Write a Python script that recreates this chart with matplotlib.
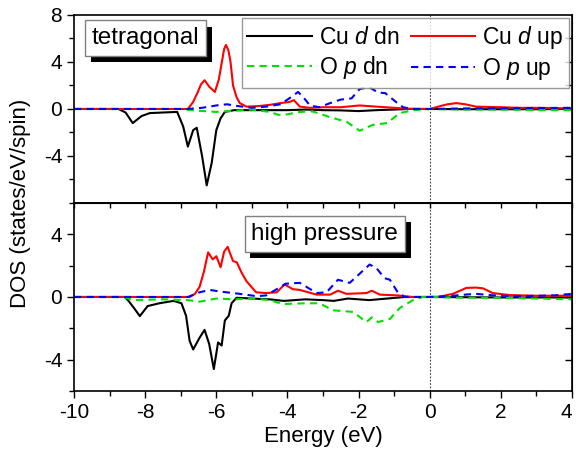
import numpy as np
import matplotlib
matplotlib.use('Agg')
import matplotlib.pyplot as plt
from matplotlib.ticker import MultipleLocator, FixedLocator
import matplotlib.patheffects as pe

plt.rcParams['font.family'] = ['Liberation Sans', 'DejaVu Sans']
plt.rcParams['mathtext.fontset'] = 'custom'
plt.rcParams['mathtext.rm'] = 'Liberation Sans'
plt.rcParams['mathtext.it'] = 'Liberation Sans:italic'
plt.rcParams['axes.unicode_minus'] = False

# ---- tetragonal panel ----
tet_cu_dn_e = [-10, -8.75, -8.55, -8.35, -8.1, -7.87, -7.5, -7.1, -6.93, -6.8, -6.65, -6.55,
               -6.4, -6.27, -6.13, -6.0, -5.88, -5.76, -5.5, -5.0, -4.5, -4.0, -3.5, -3.0,
               -2.5, -2.0, -1.5, -1.0, -0.6, 0, 1, 2, 3, 4]
tet_cu_dn = [0, 0, -0.3, -1.2, -0.6, -0.35, -0.3, -0.25, -1.5, -3.2, -1.8, -1.6,
             -4.0, -6.5, -4.6, -1.8, -0.8, -0.25, -0.1, -0.1, -0.1, -0.1, -0.05, -0.1,
             -0.12, -0.18, -0.1, -0.05, 0, 0, -0.02, -0.02, -0.02, 0]

tet_cu_up_e = [-10, -6.8, -6.65, -6.52, -6.43, -6.33, -6.2, -6.04, -5.93, -5.85, -5.78, -5.73,
               -5.66, -5.6, -5.53, -5.43, -5.34, -5.15, -4.8, -4.5, -4.2, -3.94, -3.82, -3.65,
               -3.37, -3.0, -2.5, -1.97, -1.5, -1.0, -0.6, 0, 0.3, 0.5, 0.75, 1.0, 1.3, 2,
               2.5, 3, 3.5, 4]
tet_cu_up = [0, 0, 0.6, 1.45, 2.1, 2.45, 1.9, 1.45, 2.5, 3.9, 5.1, 5.45,
             5.0, 4.0, 2.0, 1.0, 0.5, 0.2, 0.25, 0.35, 0.5, 0.6, 0.75, 0.2,
             0.1, 0.15, 0.15, 0.3, 0.2, 0.1, 0.02, 0, 0.25, 0.4, 0.5, 0.4, 0.2, 0.15,
             0.1, 0.1, 0.08, 0.05]

tet_o_dn_e = [-10, -7.0, -6.5, -6.0, -5.5, -5.0, -4.5, -4.25, -4.0, -3.65, -3.3, -2.8,
              -2.33, -1.97, -1.6, -1.2, -0.84, -0.47, 0, 1, 2, 3, 4]
tet_o_dn = [0, 0, -0.15, -0.25, -0.15, -0.05, -0.25, -0.5, -0.45, -0.25, -0.2, -0.7,
            -1.1, -1.85, -1.35, -1.2, -0.35, -0.1, 0, -0.05, -0.05, -0.1, -0.1]

tet_o_up_e = [-10, -6.8, -6.4, -6.0, -5.7, -5.4, -5.0, -4.6, -4.2, -3.95, -3.7, -3.5,
              -3.37, -3.1, -2.8, -2.5, -2.2, -1.97, -1.7, -1.45, -1.25, -0.95, -0.75, -0.5,
              0, 1, 2, 3, 4]
tet_o_up = [0, 0, 0.1, 0.3, 0.4, 0.25, 0.1, 0.2, 0.4, 0.9, 1.45, 0.8,
            0.3, 0.15, 0.5, 0.8, 0.9, 1.7, 1.85, 1.4, 1.35, 0.6, 0.15, 0,
            0, 0.05, 0.05, 0.08, 0.1]

# ---- high pressure panel ----
hp_cu_dn_e = [-10, -8.57, -8.45, -8.3, -8.15, -7.93, -7.6, -7.2, -6.98, -6.85, -6.75, -6.65,
              -6.47, -6.33, -6.2, -6.07, -5.95, -5.85, -5.76, -5.65, -5.57, -5.43, -5.0,
              -4.5, -4.1, -3.5, -3.0, -2.7, -2.3, -1.7, -1.2, -0.7, 0, 2, 4]
hp_cu_dn = [0, 0, -0.3, -0.75, -1.22, -0.58, -0.4, -0.25, -0.4, -1.2, -2.8, -3.35,
            -2.6, -2.1, -3.0, -4.6, -2.9, -3.1, -1.5, -1.2, -0.4, -0.05, -0.1,
            -0.15, -0.25, -0.15, -0.2, -0.25, -0.1, -0.2, -0.1, 0, 0, -0.03, -0.03]

hp_cu_up_e = [-10, -6.75, -6.6, -6.47, -6.35, -6.23, -6.1, -6.0, -5.88, -5.78, -5.68, -5.6,
              -5.53, -5.42, -5.3, -5.15, -4.88, -4.6, -4.3, -4.08, -3.85, -3.65, -3.18,
              -2.8, -2.58, -2.34, -1.78, -1.63, -1.4, -0.9, -0.5, 0, 0.28, 0.65, 1.03,
              1.3, 1.5, 1.77, 2.25, 3, 4]
hp_cu_up = [0, 0, 0.2, 0.65, 1.6, 2.85, 2.4, 2.6, 1.9, 2.9, 3.2, 2.7,
            2.3, 2.2, 1.6, 1.0, 0.3, 0.25, 0.3, 0.8, 0.5, 0.45, 0.15,
            0.15, 0.4, 0.2, 0.25, 0.4, 0.15, 0.1, 0, 0, 0.02, 0.2, 0.58,
            0.6, 0.55, 0.25, 0.12, 0.08, 0.08]

hp_o_dn_e = [-10, -8.6, -8.35, -7.5, -6.8, -6.47, -6.0, -5.5, -5.0, -4.5, -4.13, -3.47,
             -3.1, -2.72, -2.16, -1.78, -1.63, -1.45, -1.12, -0.84, -0.47, -0.2, 0, 1, 2, 3, 4]
hp_o_dn = [0, 0, -0.2, -0.15, -0.2, -0.3, -0.1, -0.15, -0.1, -0.2, -0.45, -0.4,
           -0.4, -0.85, -0.95, -1.6, -1.3, -1.6, -1.4, -0.7, -0.2, 0, 0, -0.05, -0.05, -0.1, -0.15]

hp_o_up_e = [-10, -6.8, -6.47, -6.18, -5.9, -5.34, -4.86, -4.6, -4.3, -4.05, -3.65, -3.18,
             -2.9, -2.58, -2.25, -1.69, -1.5, -1.27, -1.12, -0.9, -0.7, 0, 0.5, 1.0, 1.3,
             1.8, 2.5, 3.5, 4]
hp_o_up = [0, 0, 0.3, 0.45, 0.35, 0.2, 0.05, 0.1, 0.5, 0.85, 0.9, 0.25,
           0.3, 1.1, 0.9, 2.07, 1.85, 1.2, 1.1, 0.3, 0, 0, 0.05, 0.15, 0.2,
           0.1, 0.05, 0.1, 0.2]

labels = ['Cu $d$ dn', 'Cu $d$ up', 'O $p$ dn', 'O $p$ up']
colors = ['black', '#ff0000', '#00e000', '#0000ff']

fig = plt.figure(figsize=(5.76, 4.54), dpi=100)
ax1 = fig.add_axes([0.1285, 0.5529, 0.8646, 0.4141])
ax2 = fig.add_axes([0.1285, 0.1388, 0.8646, 0.4141])


def draw_panel(ax, series, right_ticks):
    handles = []
    for (e, d), lab, c in zip(series, labels, colors):
        if 'O' in lab:
            h, = ax.plot(e, d, color=c, lw=1.5, dashes=(3.5, 2.5), label=lab)
        else:
            h, = ax.plot(e, d, color=c, lw=1.5, label=lab)
        handles.append(h)
    ax.axvline(0, color='0.25', lw=0.8, ls=(0, (1.5, 1.5)), zorder=0)
    ax.set_xlim(-10, 4)
    ax.xaxis.set_major_locator(FixedLocator([-10, -8, -6, -4, -2, 0, 2, 4]))
    ax.xaxis.set_minor_locator(MultipleLocator(1))
    ax.tick_params(which='both', direction='out', labelsize=15, width=1)
    ax.tick_params(which='major', length=5)
    ax.tick_params(which='minor', length=3.5)
    for s in ax.spines.values():
        s.set_linewidth(1.2)
    # inward ticks on the right side
    r = ax.secondary_yaxis('right')
    r.yaxis.set_major_locator(FixedLocator(right_ticks))
    r.tick_params(direction='in', length=5, width=1, labelright=False)
    return handles


handles = draw_panel(ax1, [(tet_cu_dn_e, tet_cu_dn), (tet_cu_up_e, tet_cu_up),
                           (tet_o_dn_e, tet_o_dn), (tet_o_up_e, tet_o_up)],
                     [-6, -4, -2, 0, 2, 4, 6])
ax1.set_ylim(-8, 8)
ax1.yaxis.set_major_locator(FixedLocator([-4, 0, 4, 8]))
ax1.yaxis.set_minor_locator(FixedLocator([-6, -2, 2, 6]))
ax1.tick_params(axis='x', which='both', bottom=False, labelbottom=False)

draw_panel(ax2, [(hp_cu_dn_e, hp_cu_dn), (hp_cu_up_e, hp_cu_up),
                 (hp_o_dn_e, hp_o_dn), (hp_o_up_e, hp_o_up)],
           [-4, -2, 0, 2, 4])
ax2.set_ylim(-6, 6)
ax2.yaxis.set_major_locator(FixedLocator([-4, 0, 4]))
ax2.yaxis.set_minor_locator(FixedLocator([-6, -2, 2, 6]))
top2 = ax2.secondary_xaxis('top')
top2.xaxis.set_major_locator(MultipleLocator(1))
top2.tick_params(direction='in', length=3.5, width=1, labeltop=False)

# keep the last x label inside the figure, as in the reference
fig.canvas.draw()
for tk in ax2.xaxis.get_major_ticks():
    if tk.get_loc() == 4:
        tk.label1.set_horizontalalignment('right')

leg = ax1.legend([handles[0], handles[2], handles[1], handles[3]],
                 [labels[0], labels[2], labels[1], labels[3]],
                 ncol=2, loc='upper right', bbox_to_anchor=(0.993, 0.985),
                 borderaxespad=0, fontsize=16.5, frameon=True, fancybox=False,
                 handlelength=2.8, handletextpad=0.3, columnspacing=0.5,
                 labelspacing=0.25, borderpad=0.25)
leg.get_frame().set_edgecolor('0.5')
leg.get_frame().set_linewidth(1.0)


def shadow_box(ax, x, y, s):
    t = ax.text(x, y, s, transform=ax.transAxes, ha='left', va='top', fontsize=17.5,
                bbox=dict(boxstyle='square,pad=0.28', fc='white', ec='0.5', lw=1))
    t.get_bbox_patch().set_path_effects([
        pe.SimplePatchShadow(offset=(4, -4.5), shadow_rgbFace='black', alpha=1.0),
        pe.Normal()])


shadow_box(ax1, 0.036, 0.935, 'tetragonal')
shadow_box(ax2, 0.356, 0.895, 'high pressure')

ax2.set_xlabel('Energy (eV)', fontsize=16, labelpad=3)
fig.text(0.036, 1 - 203 / 454, 'DOS (states/eV/spin)', rotation=90, fontsize=16,
         ha='center', va='center')

fig.savefig('out.png', dpi=100)
